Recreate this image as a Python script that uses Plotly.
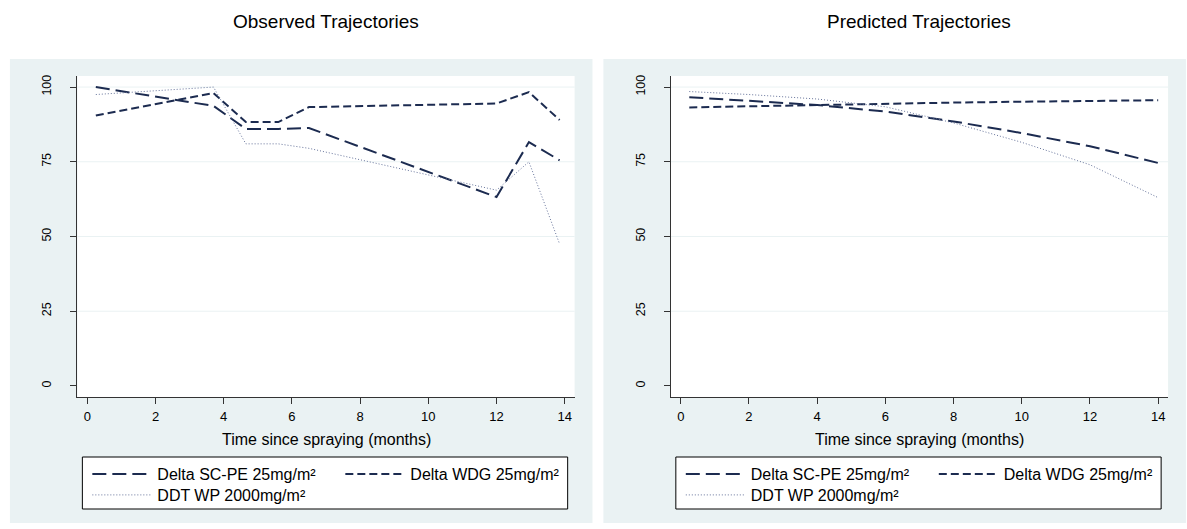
import plotly.graph_objects as go

W, H = 1187, 529

# ---- data ----
obs_time = [0.25, 3.7, 4.65, 5.6, 6.5, 12.0, 12.95, 13.85]
obs_scpe = [100, 93.7, 86, 86, 86.3, 63.2, 81.6, 75.5]
obs_wdg = [90.5, 98, 88.3, 88.3, 93.3, 94.5, 98.3, 89]
obs_ddt = [97.5, 100, 81, 81, 79.5, 65.5, 75, 47.5]

pred_time = [0.25, 2, 4, 6, 8, 10, 12, 14]
pred_scpe = [96.6, 95.5, 94.0, 91.8, 88.5, 84.6, 80.2, 74.6]
pred_wdg = [93.2, 93.6, 94.0, 94.4, 94.8, 95.1, 95.4, 95.6]
pred_ddt = [98.5, 97.5, 96.0, 93.4, 88.0, 81.5, 74.0, 63.0]

series_names = ["Delta SC-PE 25mg/m²", "Delta WDG 25mg/m²", "DDT WP 2000mg/m²"]
panel_titles = ["Observed Trajectories", "Predicted Trajectories"]
x_title = "Time since spraying (months)"
x_ticks = [0, 2, 4, 6, 8, 10, 12, 14]
y_ticks = [0, 25, 50, 75, 100]
grid_y = [25, 50, 75, 100]

# ---- styles ----
NAVY = "#1c2b50"
styles = [
    dict(color=NAVY, width=2, dash="14px,6px"),
    dict(color=NAVY, width=2, dash="8px,4px"),
    dict(color="#66739a", width=1, dash="1px,2px"),
]
FONT = "Liberation Sans, Arial, sans-serif"
BG = "#eaf2f3"


def px(x):
    return x / W


def py(y):
    return 1 - y / H


fig = go.Figure()

panels = [
    dict(t=obs_time, ys=[obs_scpe, obs_wdg, obs_ddt], xa="x", ya="y", off=0,
         legends=["legend", "legend", "legend2"]),
    dict(t=pred_time, ys=[pred_scpe, pred_wdg, pred_ddt], xa="x2", ya="y2", off=598,
         legends=["legend3", "legend3", "legend4"]),
]

for p in panels:
    for name, yv, st, lg in zip(series_names, p["ys"], styles, p["legends"]):
        fig.add_trace(go.Scatter(x=p["t"], y=yv, mode="lines", name=name,
                                 line=st, xaxis=p["xa"], yaxis=p["ya"],
                                 legend=lg, hoverinfo="skip"))

axis_common = dict(showline=True, linecolor="#333333", linewidth=1,
                   ticks="outside", tickcolor="#333333", ticklen=6,
                   showgrid=False, zeroline=False)

layout = dict(
    width=W, height=H, autosize=False, margin=dict(l=0, r=0, t=0, b=0),
    paper_bgcolor="white", plot_bgcolor="white",
    showlegend=True,
    font=dict(family=FONT, size=13, color="black"),
)

shapes = []
annotations = []
for i, p in enumerate(panels):
    off = p["off"]
    sfx = "" if i == 0 else "2"
    layout["xaxis" + sfx] = dict(domain=[px(78 + off), px(579 + off)], range=[-0.29, 14.29],
                                  tickvals=x_ticks, anchor="y" + sfx, ticklabelstandoff=1,
                                  tickfont=dict(family=FONT, size=13, color="black"),
                                  **axis_common)
    layout["yaxis" + sfx] = dict(domain=[py(397), py(76)], range=[-3.7, 103.7],
                                  tickvals=y_ticks, tickangle=-90, anchor="x" + sfx,
                                  ticklabelstandoff=14,
                                  tickfont=dict(family=FONT, size=12.5, color="black"),
                                  **axis_common)
    shapes.append(dict(type="rect", xref="paper", yref="paper",
                       x0=px(10 + off), x1=px(597 + off), y0=py(523), y1=py(59),
                       fillcolor=BG, line=dict(width=0), layer="below"))
    shapes.append(dict(type="rect", xref="x%s domain" % sfx, yref="y%s domain" % sfx,
                       x0=0, x1=1, y0=0, y1=1, fillcolor="white",
                       line=dict(width=0), layer="below"))
    for g in grid_y:
        shapes.append(dict(type="line", xref="x%s domain" % sfx, yref="y" + sfx,
                           x0=0, x1=1, y0=g, y1=g,
                           line=dict(color=BG, width=1), layer="below"))
    shapes.append(dict(type="rect", xref="paper", yref="paper",
                       x0=px(83 + off), x1=px(572 + off), y0=py(509), y1=py(457),
                       fillcolor="white", line=dict(color="black", width=1), layer="below"))
    annotations.append(dict(text=panel_titles[i], xref="x%s domain" % sfx, yref="paper",
                            x=0.5, y=py(22), showarrow=False,
                            font=dict(family=FONT, size=19, color="black"),
                            xanchor="center", yanchor="middle"))
    annotations.append(dict(text=x_title, xref="x%s domain" % sfx, yref="paper",
                            x=0.5, y=py(439), showarrow=False,
                            font=dict(family=FONT, size=16, color="black"),
                            xanchor="center", yanchor="middle"))

leg_common = dict(orientation="h", bgcolor="rgba(0,0,0,0)", borderwidth=0,
                  font=dict(family=FONT, size=16, color="black"),
                  xanchor="left", yanchor="middle", itemwidth=60,
                  entrywidth=178, entrywidthmode="pixels", itemclick=False,
                  itemdoubleclick=False)
layout["legend"] = dict(x=px(88), y=py(474), **leg_common)
layout["legend2"] = dict(x=px(88), y=py(495), **leg_common)
layout["legend3"] = dict(x=px(88 + 598), y=py(474), **leg_common)
layout["legend4"] = dict(x=px(88 + 598), y=py(495), **leg_common)
layout["shapes"] = shapes
layout["annotations"] = annotations

fig.update_layout(**layout)
fig.write_html("out.html", config={"responsive": False, "displayModeBar": False},
               post_script="document.body.style.margin='0';document.body.style.overflow='hidden';")
